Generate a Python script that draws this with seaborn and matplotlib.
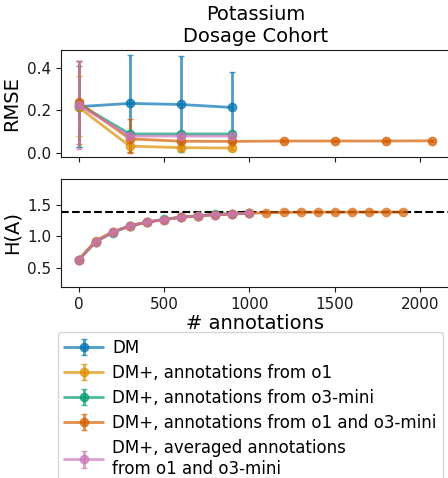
import numpy as np
import seaborn as sns
import matplotlib.pyplot as plt

sns.set_style("ticks", {"axes.edgecolor": "0.1", "xtick.color": "0.1",
                        "ytick.color": "0.1", "text.color": "black",
                        "axes.labelcolor": "black"})
plt.rcParams['font.family'] = ['DejaVu Sans']

# series names and colours
labels = ["DM",
          "DM+, annotations from o1",
          "DM+, annotations from o3-mini",
          "DM+, annotations from o1 and o3-mini",
          "DM+, averaged annotations\nfrom o1 and o3-mini"]
pal = sns.color_palette("colorblind")
colors = [pal[0], pal[1], pal[2], pal[3], pal[4]]

# RMSE panel
x_short = [0, 300, 600, 900]
x_long = [0, 300, 600, 900, 1200, 1500, 1800, 2070]

rmse_dm = [0.218, 0.233, 0.228, 0.214]
rmse_dm_lo = [0.030, 0.005, 0.004, 0.050]
rmse_dm_hi = [0.410, 0.460, 0.455, 0.380]

rmse_o1 = [0.215, 0.033, 0.026, 0.024]
rmse_o1_lo = [0.080, 0.005, 0.015, 0.015]
rmse_o1_hi = [0.360, 0.060, 0.037, 0.033]

rmse_o3 = [0.230, 0.090, 0.090, 0.090]
rmse_o3_lo = [0.030, 0.080, 0.082, 0.082]
rmse_o3_hi = [0.430, 0.100, 0.098, 0.098]

rmse_both = [0.238, 0.067, 0.056, 0.055, 0.057, 0.057, 0.057, 0.058]
rmse_both_lo = [0.045, 0.002, 0.050, 0.050, 0.053, 0.053, 0.053, 0.054]
rmse_both_hi = [0.430, 0.162, 0.062, 0.060, 0.061, 0.061, 0.061, 0.062]

rmse_avg = [0.225, 0.080, 0.080, 0.080]
rmse_avg_lo = [0.020, 0.072, 0.074, 0.074]
rmse_avg_hi = [0.430, 0.088, 0.086, 0.086]

# H(A) panel
h_x_short = [0, 100, 200, 300, 400, 500, 600, 700, 800, 900, 1000]
h_x_long = [0, 100, 200, 300, 400, 500, 600, 700, 800, 900, 1000,
            1100, 1200, 1300, 1400, 1500, 1600, 1700, 1800, 1900]
h_o1 = [0.630, 0.935, 1.075, 1.160, 1.225, 1.268, 1.303, 1.325, 1.346, 1.357, 1.367]
h_o3 = [0.626, 0.915, 1.062, 1.168, 1.228, 1.270, 1.306, 1.327, 1.348, 1.358, 1.369]
h_both = [0.626, 0.920, 1.070, 1.170, 1.227, 1.268, 1.305, 1.326, 1.347, 1.357, 1.368,
          1.376, 1.380, 1.382, 1.383, 1.384, 1.384, 1.385, 1.385, 1.385]
h_avg = [0.626, 0.920, 1.068, 1.170, 1.227, 1.268, 1.305, 1.326, 1.347, 1.357, 1.368]
h_max = 1.386

fig = plt.figure(figsize=(4.48, 4.78), dpi=100)
ax1 = fig.add_axes([0.136, 0.6715, 0.868, 0.2238])
ax2 = fig.add_axes([0.136, 0.3996, 0.868, 0.226], sharex=ax1)

series = [(x_short, rmse_dm, rmse_dm_lo, rmse_dm_hi),
          (x_short, rmse_o1, rmse_o1_lo, rmse_o1_hi),
          (x_short, rmse_o3, rmse_o3_lo, rmse_o3_hi),
          (x_long, rmse_both, rmse_both_lo, rmse_both_hi),
          (x_short, rmse_avg, rmse_avg_lo, rmse_avg_hi)]

handles = []
for (xs, m, lo, hi), c, lab in zip(series, colors, labels):
    m = np.array(m)
    yerr = [m - np.array(lo), np.array(hi) - m]
    h = ax1.errorbar(xs, m, yerr=yerr, fmt='-o', color=c, alpha=0.7,
                     lw=2, ms=6, capsize=2, elinewidth=2, label=lab)
    handles.append(h)

ax1.set_ylim(-0.018, 0.483)
ax1.set_yticks([0.0, 0.2, 0.4])
ax1.set_ylabel("RMSE", fontsize=14)
ax1.set_title("Potassium\nDosage Cohort", fontsize=14)
ax1.tick_params(labelbottom=False, labelsize=11)

h_series = [(h_x_short, h_o1), (h_x_short, h_o3), (h_x_long, h_both), (h_x_short, h_avg)]
for (xs, ys), c in zip(h_series, colors[1:]):
    sns.lineplot(x=xs, y=ys, ax=ax2, color=c, alpha=0.7, lw=2,
                 marker='o', markersize=7, markeredgewidth=0)
ax2.axhline(h_max, color='black', ls='--', lw=1.5, zorder=0)
ax2.set_ylim(0.2, 1.91)
ax2.set_yticks([0.5, 1.0, 1.5])
ax2.set_xlim(-103.5, 2173.5)
ax2.set_xticks([0, 500, 1000, 1500, 2000])
ax2.set_ylabel("H(A)", fontsize=14)
ax2.set_xlabel("# annotations", fontsize=14, labelpad=2)
ax2.tick_params(labelsize=11)

fig.legend(handles=handles, loc='upper left', bbox_to_anchor=(0.129, 0.305),
           borderaxespad=0, fontsize=12, labelspacing=0.42, handlelength=2.3,
           handletextpad=0.55)

fig.savefig("out.png", dpi=100)
